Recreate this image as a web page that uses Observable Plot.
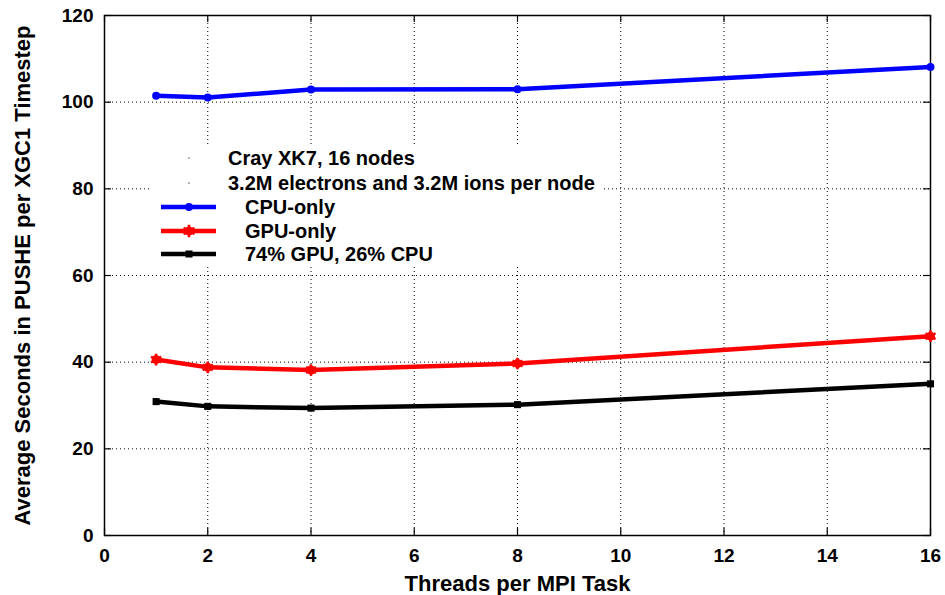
<!DOCTYPE html>
<html><head><meta charset="utf-8">
<script src="https://cdn.jsdelivr.net/npm/d3@7"></script>
<script src="https://cdn.jsdelivr.net/npm/@observablehq/plot@0.6"></script>
<style>
body{margin:0;background:#fff;font-family:"Liberation Sans",Arial,Helvetica,sans-serif}
#wrap{position:relative;width:945px;height:595px}
#legend{position:absolute;left:150px;top:146px;width:452px;height:121px;background:#fff;font-weight:bold;font-size:20px;color:#000}
.row{position:absolute;left:0;height:24px;width:452px}
.row svg{position:absolute;left:0;top:0}
.row span{position:absolute;top:0;line-height:24px;white-space:nowrap}
</style>
</head><body>
<div id="wrap"><div id="chart"></div><div id="legend"></div></div>
<script>
const threads = [1, 2, 4, 8, 16];
const cpuOnly = [101.5, 101.1, 102.9, 103.0, 108.1];
const gpuOnly = [40.6, 38.8, 38.2, 39.7, 46.0];
const hybrid  = [30.9, 29.8, 29.4, 30.2, 35.0];
const seriesNames = ["CPU-only", "GPU-only", "74% GPU, 26% CPU"];
const seriesColors = ["#0000ff", "#ff0000", "#000000"];
const noteLines = ["Cray XK7, 16 nodes", "3.2M electrons and 3.2M ions per node"];
const xTicks = [0, 2, 4, 6, 8, 10, 12, 14, 16];
const yTicks = [0, 20, 40, 60, 80, 100, 120];
const xLabel = "Threads per MPI Task";
const yLabel = "Average Seconds in PUSHE per XGC1 Timestep";

const mk = (vals) => threads.map((t, i) => ({x: t, y: vals[i]}));
const cpu = mk(cpuOnly), gpu = mk(gpuOnly), hyb = mk(hybrid);

const xGrid = xTicks.slice(1, -1), yGrid = yTicks.slice(1, -1);
const dash = "1,3";

const chart = Plot.plot({
  width: 945, height: 595,
  marginLeft: 104, marginRight: 15, marginTop: 15, marginBottom: 60,
  style: {fontFamily: '"Liberation Sans", Arial, Helvetica, sans-serif', fontWeight: "bold", fontSize: "19px", color: "#000", background: "#fff", overflow: "visible"},
  x: {domain: [0, 16], ticks: xTicks},
  y: {domain: [0, 120], ticks: yTicks},
  marks: [
    Plot.ruleX(xGrid, {stroke: "#000", strokeWidth: 1, strokeDasharray: dash}),
    Plot.ruleY(yGrid, {stroke: "#000", strokeWidth: 1, strokeDasharray: dash}),
    // inward ticks
    Plot.ruleX(xTicks, {y1: 0, y2: 1.6, stroke: "#000", strokeWidth: 1.2}),
    Plot.ruleX(xTicks, {y1: 118.4, y2: 120, stroke: "#000", strokeWidth: 1.2}),
    Plot.ruleY(yTicks, {x1: 0, x2: 0.136, stroke: "#000", strokeWidth: 1.2}),
    Plot.ruleY(yTicks, {x1: 15.864, x2: 16, stroke: "#000", strokeWidth: 1.2}),
    Plot.frame({stroke: "#000", strokeWidth: 1.5}),
    Plot.line(cpu, {x: "x", y: "y", stroke: seriesColors[0], strokeWidth: 4.5}),
    Plot.dot(cpu, {x: "x", y: "y", r: 4, fill: seriesColors[0]}),
    Plot.line(gpu, {x: "x", y: "y", stroke: seriesColors[1], strokeWidth: 4.5}),
    Plot.dot(gpu, {x: "x", y: "y", r: 4.5, fill: seriesColors[1]}),
    Plot.dot(gpu, {x: "x", y: "y", r: 5.5, symbol: "asterisk", stroke: seriesColors[1], strokeWidth: 2.5}),
    Plot.line(hyb, {x: "x", y: "y", stroke: seriesColors[2], strokeWidth: 4.5}),
    Plot.dot(hyb, {x: "x", y: "y", r: 4, symbol: "square", fill: seriesColors[2]}),
    Plot.axisX(xTicks, {tickSize: 0, tickPadding: 13, fontSize: 19, fontWeight: "bold", label: null}),
    Plot.axisY(yTicks, {tickSize: 0, tickPadding: 11, fontSize: 19, fontWeight: "bold", label: null}),
    Plot.text([xLabel], {frameAnchor: "bottom", dy: 48, textAnchor: "middle", lineAnchor: "middle", fontSize: 22, fontWeight: "bold", fill: "#000"}),
    Plot.text([yLabel], {frameAnchor: "left", dx: -82, rotate: -90, textAnchor: "middle", lineAnchor: "middle", fontSize: 22, fontWeight: "bold", fill: "#000"})
  ]
});
document.getElementById("chart").appendChild(chart);

// legend (key)
const legend = d3.select("#legend");
const rowTops = [0, 25, 49, 73, 96];
noteLines.forEach((t, i) => {
  const row = legend.append("div").attr("class", "row").style("top", rowTops[i] + "px");
  const s = row.append("svg").attr("width", 80).attr("height", 24);
  s.append("circle").attr("cx", 39).attr("cy", 12).attr("r", 0.8).attr("fill", "#555");
  row.append("span").style("left", "78px").text(t);
});
seriesNames.forEach((name, i) => {
  const row = legend.append("div").attr("class", "row").style("top", rowTops[i + 2] + "px");
  const s = row.append("svg").attr("width", 80).attr("height", 24);
  const c = seriesColors[i];
  s.append("line").attr("x1", 11).attr("x2", 66).attr("y1", 12).attr("y2", 12).attr("stroke", c).attr("stroke-width", 4.5);
  if (i === 0) s.append("circle").attr("cx", 39).attr("cy", 12).attr("r", 4).attr("fill", c);
  if (i === 1) {
    s.append("circle").attr("cx", 39).attr("cy", 12).attr("r", 4.5).attr("fill", c);
    s.append("path").attr("transform", "translate(39,12)").attr("d", d3.symbol(d3.symbolAsterisk, 110)()).attr("stroke", c).attr("stroke-width", 2.5);
  }
  if (i === 2) s.append("rect").attr("x", 35.5).attr("y", 8.5).attr("width", 7).attr("height", 7).attr("fill", c);
  row.append("span").style("left", "95px").text(name);
});
</script>
</body></html>
